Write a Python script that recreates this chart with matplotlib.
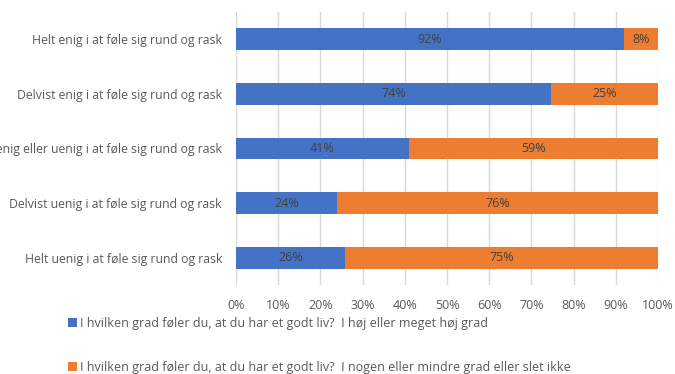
import numpy as np
import matplotlib.pyplot as plt

categories = [
    'Helt enig i at føle sig rund og rask',
    'Delvist enig i at føle sig rund og rask',
    'Hverken enig eller uenig i at føle sig rund og rask',
    'Delvist uenig i at føle sig rund og rask',
    'Helt uenig i at føle sig rund og rask',
]
high = [92, 74, 41, 24, 26]
low = [8, 25, 59, 76, 75]
series_names = [
    'I hvilken grad føler du, at du har et godt liv?  I høj eller meget høj grad',
    'I hvilken grad føler du, at du har et godt liv?  I nogen eller mindre grad eller slet ikke',
]

plt.rcParams['font.family'] = 'Open Sans'
text_grey = '#595959'

# 100% stacked, like Excel
high_a = np.array(high, dtype=float)
low_a = np.array(low, dtype=float)
tot = high_a + low_a
high_p = high_a / tot * 100
low_p = low_a / tot * 100

fig = plt.figure(figsize=(6.75, 3.74), dpi=100)
ax = fig.add_axes([236/675, 1-285/374, (658-236)/675, (285-12)/374])

y = np.arange(len(categories))
b1 = ax.barh(y, high_p, height=0.4, color='#4472C4', label=series_names[0], zorder=3)
b2 = ax.barh(y, low_p, left=high_p, height=0.4, color='#ED7D31', label=series_names[1], zorder=3)

for i in range(len(categories)):
    ax.text(high_p[i]/2, y[i], f'{high[i]}%', ha='center', va='center', fontsize=9, color='#404040', zorder=4)
    ax.text(high_p[i] + low_p[i]/2, y[i], f'{low[i]}%', ha='center', va='center', fontsize=9, color='#404040', zorder=4)

ax.set_ylim(len(categories)-0.5, -0.5)
ax.set_xlim(0, 100)
ax.set_yticks(y)
ax.set_yticklabels(categories, fontsize=8.8, color=text_grey)
ax.set_xticks(np.arange(0, 101, 10))
ax.set_xticklabels([f'{v}%' for v in range(0, 101, 10)], fontsize=9, color=text_grey)
ax.tick_params(length=0)
ax.tick_params(axis='x', pad=10)
ax.tick_params(axis='y', pad=10)
for s in ax.spines.values():
    s.set_visible(False)
ax.grid(axis='x', color='#D9D9D9', linewidth=1, zorder=0)

leg = fig.legend(handles=[b1, b2], loc='upper left', bbox_to_anchor=(68/675, 1-317/374),
                 frameon=False, fontsize=9, labelcolor=text_grey,
                 handlelength=0.7, handleheight=0.7, handletextpad=0.3, labelspacing=2.45,
                 borderpad=0, borderaxespad=0)

fig.savefig('out.png', dpi=100)
